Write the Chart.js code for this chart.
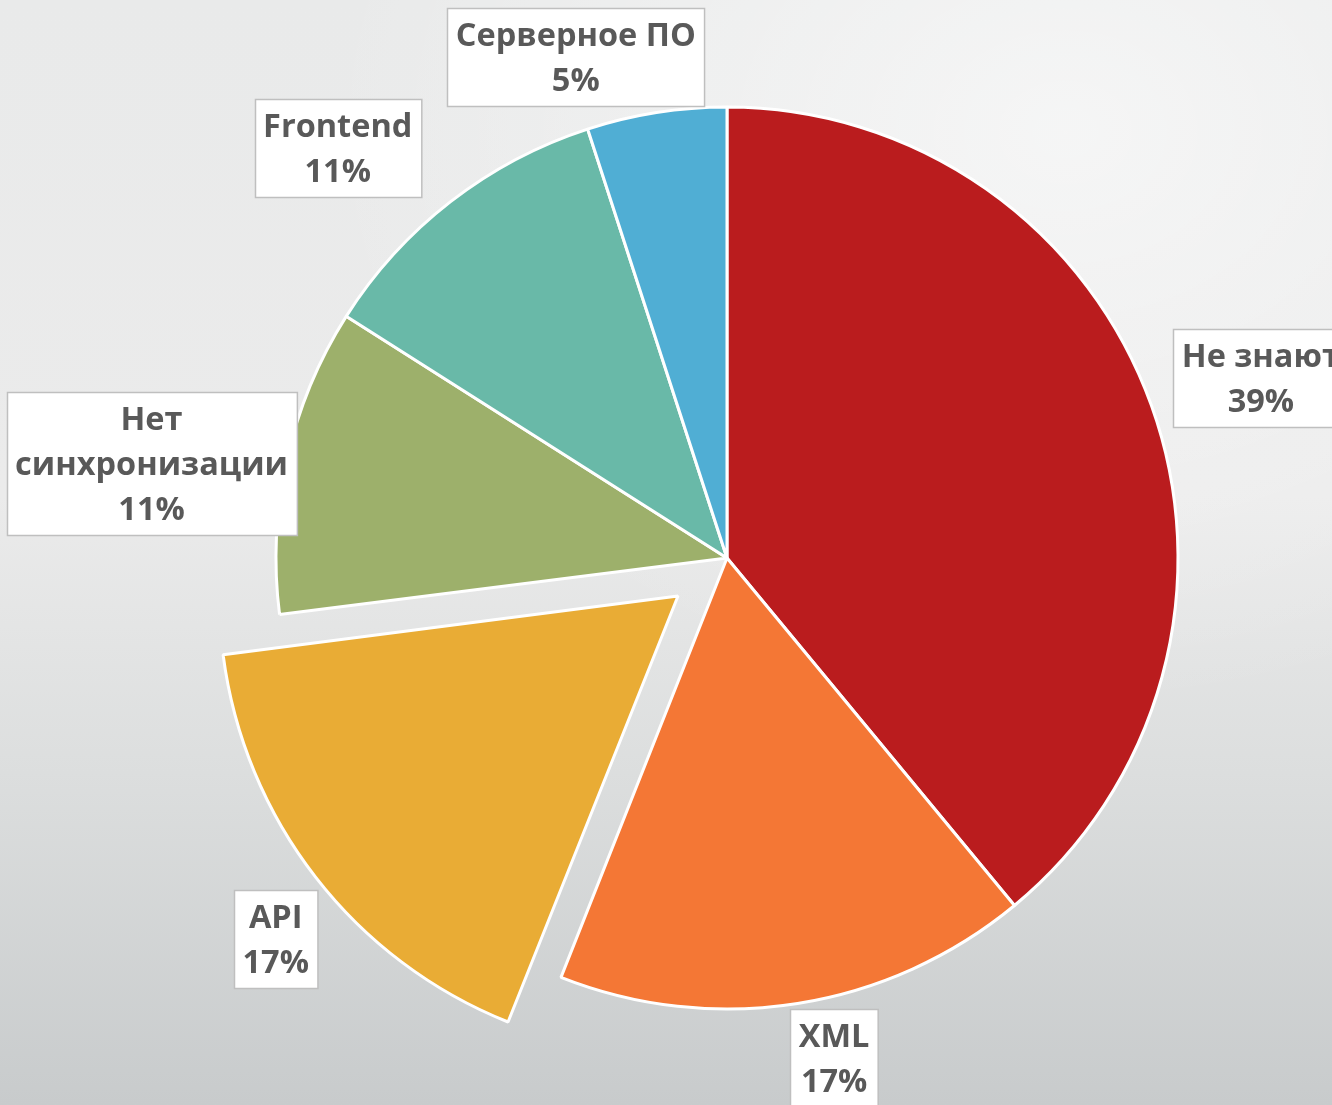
<!DOCTYPE html>
<html>
<head>
<meta charset="utf-8">
<script src="https://cdn.jsdelivr.net/npm/chart.js@4"></script>
<style>
  html, body { margin: 0; padding: 0; }
  body {
    width: 1332px; height: 1105px; overflow: hidden;
    background:
      radial-gradient(ellipse 75% 70% at 80% 12%, rgba(255,255,255,0.55), rgba(255,255,255,0) 75%),
      linear-gradient(to bottom, #e9eaea 0%, #ebebeb 45%, #dcdede 70%, #c8cbcc 100%);
  }
  canvas { display: block; }
</style>
</head>
<body>
<canvas id="pie" width="1332" height="1105"></canvas>
<script>
// Survey answers, clockwise from 12 o'clock
const categories = ['Не знают', 'XML', 'API', 'Нет синхронизации', 'Frontend', 'Серверное ПО'];
const shares = [39, 17, 17, 11, 11, 5];
const labelLines = [['Не знают'], ['XML'], ['API'], ['Нет', 'синхронизации'], ['Frontend'], ['Серверное ПО']];
const sliceColors = ['#BA1C1E', '#F47735', '#E9AC35', '#9DB06B', '#69B9A8', '#50AED4'];
// API is pulled out of the pie
const sliceOffsets = [0, 0, 248, 0, 0, 0];

// Where each call-out box sits: [angle nudge from slice middle (deg), distance in radii]
const labelPlacement = [[1.2, 1.249], [-3.1, 1.133], [-2.4, 1.31], [-3.3, 1.293], [-5.7, 1.254], [-7.8, 1.16]];

const LINE_H = 45;
const FONT = 'bold 32.5px "Open Sans"';

const calloutPlugin = {
  id: 'callouts',
  afterDatasetsDraw(chart) {
    const ctx = chart.ctx;
    const meta = chart.getDatasetMeta(0);
    ctx.save();
    ctx.font = FONT;
    ctx.textAlign = 'center';
    ctx.textBaseline = 'middle';
    meta.data.forEach((arc, i) => {
      const p = arc.getProps(['x', 'y', 'startAngle', 'endAngle', 'outerRadius'], true);
      const mid = (p.startAngle + p.endAngle) / 2 + labelPlacement[i][0] * Math.PI / 180;
      const cx = p.x + Math.cos(mid) * p.outerRadius * labelPlacement[i][1];
      const cy = p.y + Math.sin(mid) * p.outerRadius * labelPlacement[i][1];
      const lines = [...labelLines[i], shares[i] + '%'];
      const w = Math.max(...lines.map(t => ctx.measureText(t).width)) + 17;
      const h = lines.length * LINE_H + 8;
      const left = Math.round(cx - w / 2) + 0.5;
      const top = Math.round(cy - h / 2) + 0.5;
      ctx.fillStyle = '#ffffff';
      ctx.fillRect(left, top, w, h);
      ctx.strokeStyle = '#bfbfbf';
      ctx.lineWidth = 1.5;
      ctx.strokeRect(left, top, w, h);
      ctx.fillStyle = '#595959';
      lines.forEach((t, k) => {
        ctx.fillText(t, cx, top + 4 + LINE_H / 2 + 2 + k * LINE_H);
      });
    });
    ctx.restore();
  }
};

new Chart(document.getElementById('pie'), {
  type: 'pie',
  data: {
    labels: categories,
    datasets: [{
      data: shares,
      backgroundColor: sliceColors,
      borderColor: '#ffffff',
      borderWidth: 3,
      offset: sliceOffsets,
      hoverOffset: 0
    }]
  },
  options: {
    responsive: false,
    animation: false,
    events: [],
    radius: 451,
    layout: { padding: { left: 122, right: 0, top: 11, bottom: 0 } },
    plugins: {
      legend: { display: false },
      tooltip: { enabled: false }
    }
  },
  plugins: [calloutPlugin]
});
</script>
</body>
</html>
